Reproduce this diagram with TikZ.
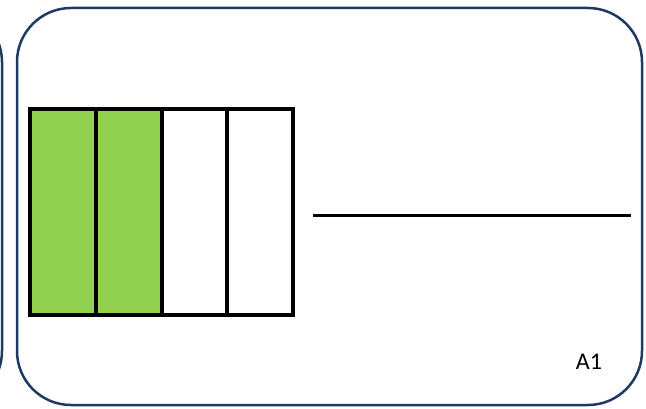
\documentclass[tikz,border=0pt]{standalone}
\usepackage{fontspec}
\setmainfont{Carlito}
\definecolor{navy}{HTML}{1F3864}
\definecolor{barg}{HTML}{92D050}
\tikzset{
  card/.style={draw=navy, line width=2.5pt, rounded corners=54pt},
  cell/.style={draw=black, line width=4pt, minimum width=65.75pt, minimum height=206pt, inner sep=0pt, outer sep=0pt},
  greencell/.style={cell, fill=barg},
  blankcell/.style={cell, fill=white},
}
\begin{document}
\begin{tikzpicture}[x=1pt,y=-1pt]
\useasboundingbox (0,0) rectangle (646,409);
\clip (0,0) rectangle (646,409);
\fill[white] (0,0) rectangle (646,409);
% previous card, mostly cut off
\draw[card] (-600,8) rectangle (2,405);
% main card
\draw[card] (17,8) rectangle (642,405);
% fraction bar
\node[greencell, anchor=north west] (c1) at (30,109) {};
\node[greencell, anchor=west] (c2) at (c1.east) {};
\node[blankcell, anchor=west] (c3) at (c2.east) {};
\node[blankcell, anchor=west] (c4) at (c3.east) {};
% answer line
\coordinate (l1) at (313,216);
\coordinate (l2) at (631,216);
\draw[line width=3pt] (l1) -- (l2);
% label
\node[font=\fontsize{24}{28}\selectfont, inner sep=0pt] (lab) at (589,362) {A1};
\end{tikzpicture}
\end{document}
